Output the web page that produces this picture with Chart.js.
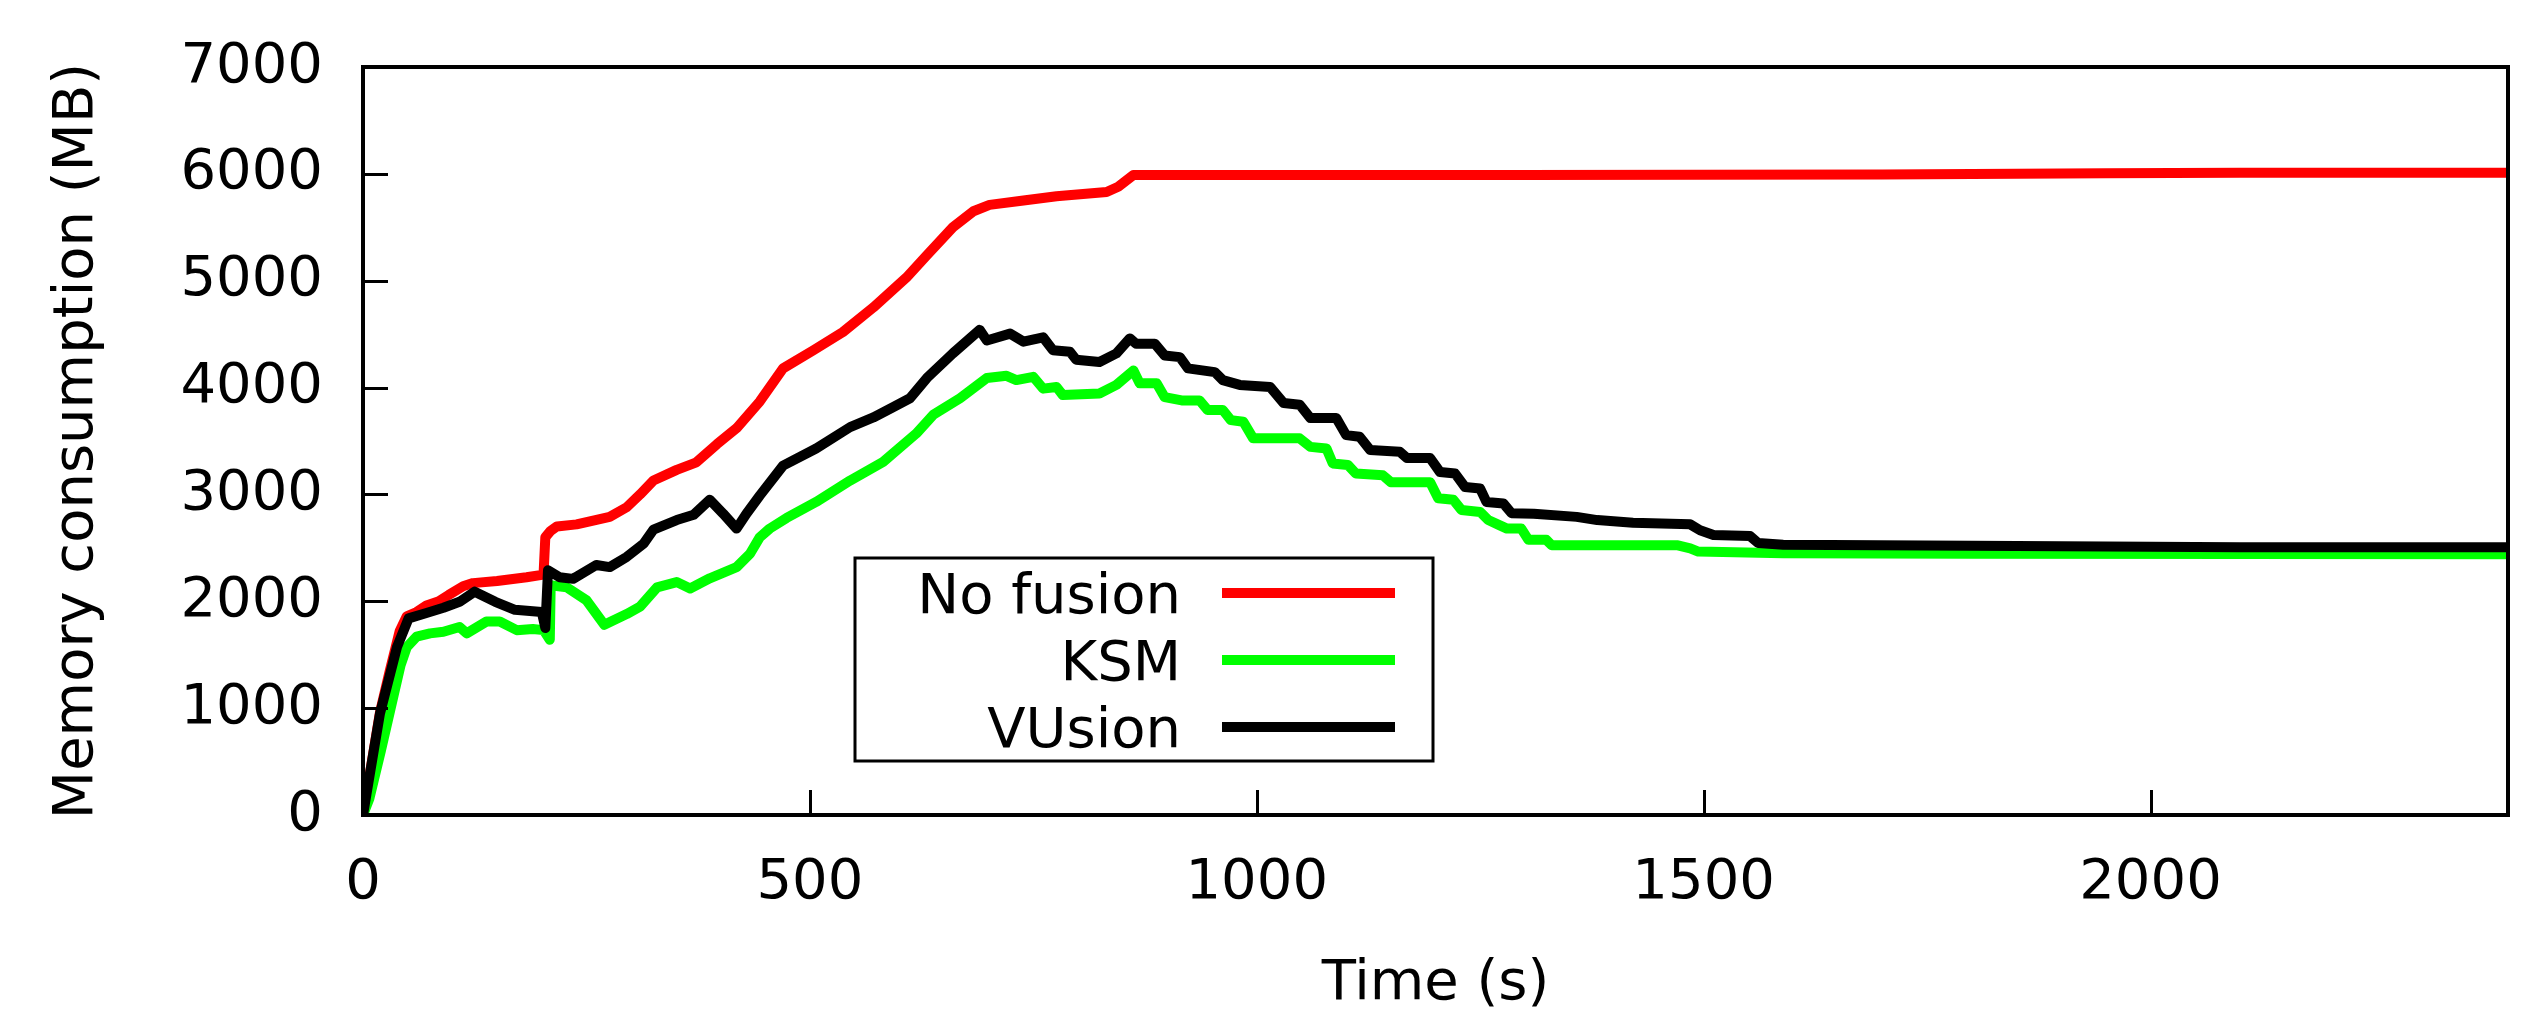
<!DOCTYPE html>
<html lang="en">
<head>
  <meta charset="UTF-8" />
  <title>Memory consumption over time</title>
  <script src="https://cdn.jsdelivr.net/npm/chart.js"></script>
  <style>
    html, body { margin: 0; padding: 0; background: #fff; }
    canvas { display: block; }
  </style>
</head>
<body>
  <canvas id="chart" width="2544" height="1010"></canvas>

  <script>
    // values: time (s) and memory (MB)
    const seriesNames = ['No fusion', 'KSM', 'VUsion'];
    const seriesColors = ['#ff0000', '#00ff00', '#000000'];

    const noFusionT = [0, 5, 19, 30, 41, 49, 60, 71, 85, 96, 112, 123, 150, 183, 202, 204, 210, 217, 239, 260, 276, 295, 310, 325, 351, 373, 396, 418, 444, 470, 504, 537, 571, 608, 631, 660, 683, 701, 739, 776, 832, 845, 862, 1000, 1300, 1700, 1850, 1950, 2100, 2400];
    const noFusionMB = [0, 250, 960, 1350, 1720, 1860, 1900, 1960, 2000, 2060, 2140, 2170, 2190, 2225, 2250, 2600, 2660, 2700, 2720, 2760, 2790, 2880, 3000, 3130, 3230, 3300, 3470, 3620, 3870, 4180, 4350, 4520, 4750, 5030, 5240, 5500, 5650, 5710, 5750, 5790, 5830, 5880, 5990, 5990, 5990, 5995, 6000, 6005, 6010, 6010];

    const ksmT = [0, 7, 20, 34, 42, 49, 60, 75, 90, 108, 116, 138, 153, 172, 190, 202, 209, 210, 228, 250, 270, 295, 310, 329, 351, 366, 388, 418, 433, 444, 455, 474, 507, 545, 582, 619, 638, 668, 698, 720, 731, 750, 761, 776, 783, 824, 843, 862, 869, 888, 897, 916, 936, 945, 962, 971, 985, 996, 1048, 1060, 1078, 1085, 1102, 1111, 1141, 1150, 1194, 1203, 1220, 1229, 1250, 1259, 1272, 1280, 1296, 1304, 1324, 1330, 1470, 1485, 1494, 1589, 1800, 2100, 2400];
    const ksmMB = [0, 150, 600, 1110, 1400, 1570, 1670, 1700, 1715, 1760, 1700, 1810, 1810, 1730, 1740, 1730, 1640, 2150, 2130, 2010, 1780, 1880, 1950, 2130, 2180, 2120, 2215, 2320, 2445, 2600, 2680, 2780, 2930, 3130, 3305, 3570, 3745, 3900, 4090, 4110, 4070, 4100, 3990, 4005, 3930, 3945, 4025, 4160, 4040, 4040, 3910, 3880, 3880, 3790, 3790, 3695, 3680, 3525, 3525, 3445, 3430, 3290, 3275, 3195, 3180, 3115, 3115, 2965, 2950, 2855, 2835, 2760, 2710, 2680, 2680, 2575, 2575, 2525, 2525, 2495, 2465, 2450, 2445, 2442, 2440];

    const vusionT = [0, 5, 19, 38, 51, 71, 90, 108, 125, 148, 170, 200, 204, 207, 220, 235, 261, 276, 295, 314, 325, 351, 370, 388, 403, 418, 429, 444, 470, 507, 545, 571, 594, 612, 631, 660, 690, 698, 724, 739, 761, 772, 791, 798, 824, 843, 858, 865, 886, 897, 914, 923, 953, 962, 981, 1015, 1030, 1048, 1060, 1089, 1100, 1115, 1127, 1160, 1168, 1194, 1205, 1222, 1233, 1250, 1257, 1276, 1285, 1310, 1358, 1381, 1421, 1485, 1496, 1511, 1552, 1561, 1589, 1800, 2000, 2100, 2400];
    const vusionMB = [0, 250, 950, 1570, 1840, 1890, 1940, 1995, 2090, 1995, 1920, 1900, 1750, 2290, 2225, 2210, 2340, 2320, 2415, 2540, 2670, 2760, 2810, 2950, 2820, 2680, 2820, 2990, 3270, 3430, 3630, 3720, 3820, 3900, 4090, 4320, 4540, 4440, 4505, 4430, 4470, 4350, 4335, 4260, 4240, 4320, 4460, 4410, 4410, 4300, 4285, 4180, 4145, 4070, 4025, 4005, 3855, 3840, 3715, 3715, 3555, 3540, 3415, 3400, 3340, 3340, 3210, 3195, 3070, 3055, 2930, 2915, 2825, 2820, 2790, 2760, 2735, 2720, 2665, 2620, 2610, 2545, 2530, 2520, 2510, 2505, 2505];

    const xTicks = [0, 500, 1000, 1500, 2000];
    const yTicks = [0, 1000, 2000, 3000, 4000, 5000, 6000, 7000];

    const FONT = 'DejaVu Sans';

    function toPoints(ts, vs) {
      return ts.map((t, i) => ({ x: t, y: vs[i] }));
    }

    // gnuplot-style frame with inward ticks
    const framePlugin = {
      id: 'frame',
      afterDatasetsDraw(chart) {
        const { ctx, chartArea: a, scales } = chart;
        ctx.save();
        ctx.strokeStyle = '#000';
        ctx.lineWidth = 3;
        ctx.beginPath();
        xTicks.forEach(v => {
          const px = Math.round(scales.x.getPixelForValue(v)) + 0.5;
          ctx.moveTo(px, a.bottom);
          ctx.lineTo(px, a.bottom - 25);
        });
        yTicks.forEach(v => {
          const py = Math.round(scales.y.getPixelForValue(v)) + 0.5;
          ctx.moveTo(a.left, py);
          ctx.lineTo(a.left + 25, py);
        });
        ctx.stroke();
        ctx.lineWidth = 4;
        ctx.strokeRect(a.left, a.top, a.right - a.left, a.bottom - a.top);
        ctx.restore();
      }
    };

    // boxed key: label right-aligned, sample line to its right
    const keyPlugin = {
      id: 'key',
      afterDraw(chart) {
        const { ctx, chartArea: a } = chart;
        const left = a.left + 492, top = a.top + 491, w = 578, h = 203;
        ctx.save();
        ctx.fillStyle = '#fff';
        ctx.fillRect(left, top, w, h);
        ctx.strokeStyle = '#000';
        ctx.lineWidth = 3;
        ctx.strokeRect(left, top, w, h);
        ctx.font = '56px "' + FONT + '"';
        ctx.textAlign = 'right';
        ctx.textBaseline = 'alphabetic';
        chart.data.datasets.forEach((ds, i) => {
          const y = top + 35 + i * 67;
          ctx.fillStyle = '#000';
          ctx.fillText(ds.label, left + 326, y + 20);
          ctx.strokeStyle = ds.borderColor;
          ctx.lineWidth = 10;
          ctx.beginPath();
          ctx.moveTo(left + 367, y);
          ctx.lineTo(left + 540, y);
          ctx.stroke();
        });
        ctx.restore();
      }
    };

    const ctx = document.getElementById('chart').getContext('2d');
    new Chart(ctx, {
      type: 'line',
      data: {
        datasets: [
          { label: seriesNames[0], data: toPoints(noFusionT, noFusionMB), borderColor: seriesColors[0], order: 3 },
          { label: seriesNames[1], data: toPoints(ksmT, ksmMB), borderColor: seriesColors[1], order: 2 },
          { label: seriesNames[2], data: toPoints(vusionT, vusionMB), borderColor: seriesColors[2], order: 1 }
        ]
      },
      options: {
        responsive: false,
        animation: false,
        devicePixelRatio: 1,
        datasets: {
          line: { borderWidth: 10, pointRadius: 0, tension: 0, fill: false, borderJoinStyle: 'round' }
        },
        layout: { padding: { top: 67, right: 36, bottom: 0, left: 0 } },
        plugins: {
          legend: { display: false },
          tooltip: { enabled: false }
        },
        scales: {
          x: {
            type: 'linear',
            min: 0,
            max: 2400,
            grid: { display: false, drawTicks: false },
            border: { display: false },
            afterBuildTicks(scale) { scale.ticks = xTicks.map(v => ({ value: v })); },
            ticks: {
              color: '#000',
              padding: 35,
              maxRotation: 0,
              autoSkip: false,
              callback: v => String(v),
              font: { family: FONT, size: 56 }
            },
            title: {
              display: true,
              text: 'Time (s)',
              color: '#000',
              padding: { top: 0, bottom: 0 },
              font: { family: FONT, size: 56, lineHeight: 0.9 }
            },
            afterFit(scale) {
              scale.height = 195;
              scale.paddingLeft = 0;
              scale.paddingRight = 0;
            }
          },
          y: {
            min: 0,
            max: 7000,
            grid: { display: false, drawTicks: false },
            border: { display: false },
            afterBuildTicks(scale) { scale.ticks = yTicks.map(v => ({ value: v })); },
            ticks: {
              color: '#000',
              padding: 40,
              autoSkip: false,
              callback: v => String(v),
              font: { family: FONT, size: 56 }
            },
            title: {
              display: true,
              text: 'Memory consumption (MB)',
              color: '#000',
              padding: { top: 49, bottom: 0 },
              font: { family: FONT, size: 56, lineHeight: 1 }
            },
            afterFit(scale) {
              scale.width = 363;
              scale.paddingTop = 0;
              scale.paddingBottom = 0;
            }
          }
        }
      },
      plugins: [framePlugin, keyPlugin]
    });
  </script>
</body>
</html>
